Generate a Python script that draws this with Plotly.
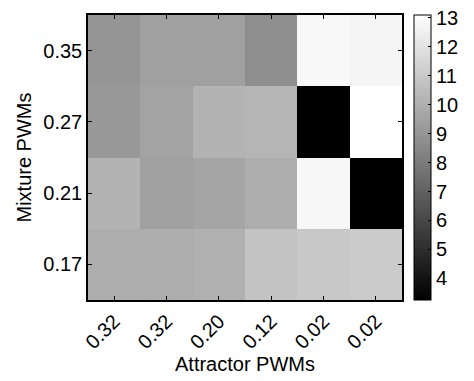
import plotly.graph_objects as go

x_labels = ["0.32", "0.32", "0.20", "0.12", "0.02", "0.02"]
y_labels = ["0.17", "0.21", "0.27", "0.35"]
# rows bottom -> top
z_values = [
    [9.93, 9.93, 10.05, 10.78, 10.97, 11.05],
    [10.16, 9.43, 9.62, 9.93, 12.79, 3.25],
    [9.16, 9.55, 10.16, 10.24, 3.25, 13.1],
    [9.0, 9.43, 9.43, 8.74, 12.83, 12.71],
]
cbar_ticks = [4, 5, 6, 7, 8, 9, 10, 11, 12, 13]

xi = list(range(len(x_labels)))
yi = list(range(len(y_labels)))

FONT = "Liberation Sans, Arial, Helvetica"

fig = go.Figure(go.Heatmap(
    z=z_values, x=xi, y=yi,
    colorscale=[[0, "black"], [1, "white"]],
    zmin=3.25, zmax=13.1,
    colorbar=dict(
        x=1.037, xanchor="left", xpad=0, y=0.5, yanchor="middle", len=1.0, ypad=0,
        thickness=17, outlinewidth=1, outlinecolor="black",
        tickvals=cbar_ticks, ticks="inside", ticklen=3, tickcolor="black",
        tickfont=dict(family=FONT, size=20, color="black"),
    ),
))

fig.update_layout(
    width=474, height=381,
    margin=dict(l=88, r=62, t=15, b=77),
    plot_bgcolor="white", paper_bgcolor="white",
    font=dict(family=FONT, size=20, color="black"),
)
fig.update_xaxes(
    tickvals=xi, ticktext=x_labels, tickangle=-45,
    range=[-0.5, 5.5], showgrid=False, zeroline=False,
    showline=True, linecolor="black", linewidth=1.5, mirror="ticks",
    ticks="inside", ticklen=4, tickcolor="black",
    title=dict(text="Attractor PWMs", standoff=2, font=dict(size=20)),
    tickfont=dict(size=20),
)
fig.update_yaxes(
    tickvals=yi, ticktext=y_labels,
    range=[-0.5, 3.5], showgrid=False, zeroline=False,
    showline=True, linecolor="black", linewidth=1.5, mirror="ticks",
    ticks="inside", ticklen=4, tickcolor="black",
    title=dict(text="Mixture PWMs", standoff=6, font=dict(size=20)),
    tickfont=dict(size=20),
)

fig.write_html("out.html")
